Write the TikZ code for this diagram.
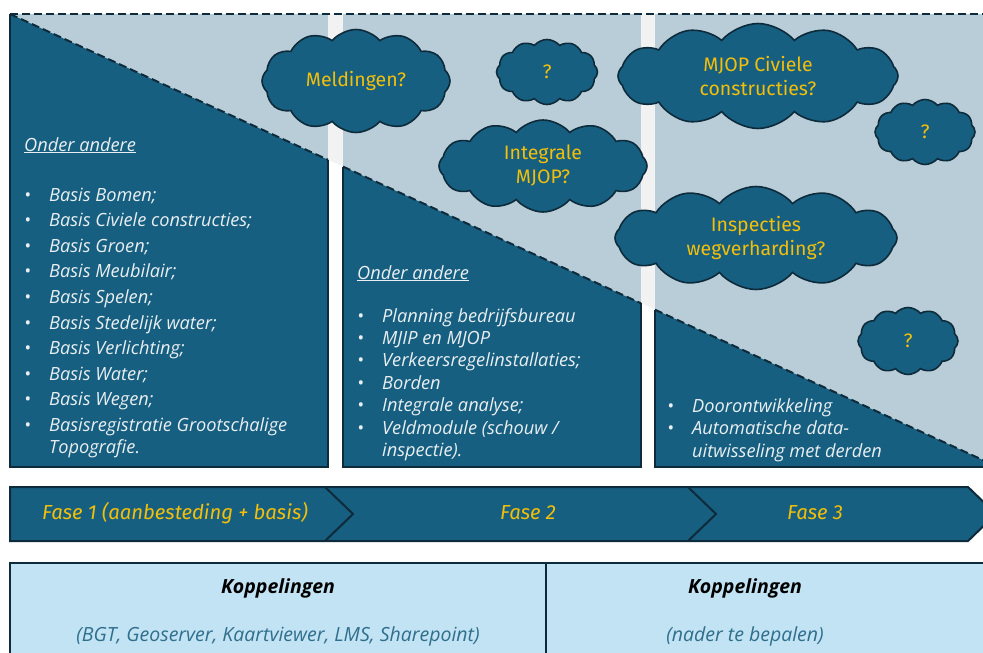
\documentclass[tikz,border=0pt]{standalone}
\usepackage{fontspec}
\setmainfont{Open Sans}
\newfontfamily\fira{Fira Sans}
\usetikzlibrary{shapes.symbols}
\definecolor{dkblue}{HTML}{175F80}
\definecolor{ltblue}{HTML}{B9CDD8}
\definecolor{outl}{HTML}{0D2B3B}
\definecolor{gold}{HTML}{F2BF0A}
\definecolor{gapgray}{HTML}{F2F2F2}
\definecolor{listwhite}{HTML}{E9EFF2}
\definecolor{tblblue}{HTML}{C2E3F3}
\definecolor{tbltext}{HTML}{2F6E8C}
\tikzset{
  solidedge/.style={draw=outl, line width=2pt},
  dashedge/.style={draw=outl, line width=2pt, dash pattern=on 8pt off 4pt},
  cloudbox/.style={cloud, cloud puffs=12, cloud puff arc=100, cloud ignores aspect,
    fill=dkblue, draw=outl, line width=1.6pt, text=gold, align=center, inner sep=0pt,
    font=\fira\fontsize{19.5}{24}\selectfont},
  phasetext/.style={text=gold, font=\fira\itshape\fontsize{20.3}{24}\selectfont},
  listtext/.style={text=listwhite, anchor=base west, inner sep=0pt, align=left},
  headtext/.style={text=black, font=\bfseries\itshape\fontsize{19.5}{22}\selectfont},
  subtext/.style={text=tbltext, font=\itshape\fontsize{19.5}{22}\selectfont},
}
\begin{document}
\begin{tikzpicture}[x=1pt,y=-1pt]
\useasboundingbox (0,0) rectangle (983,653);
\clip (0,0) rectangle (983,653);
\fill[white] (0,0) rectangle (983,653);
% upper light area and gaps
\fill[ltblue] (10,14) rectangle (990,467);
\fill[gapgray] (328,14) rectangle (343,467);
\fill[gapgray] (641,14) rectangle (655,467);
\fill[white] (328,159.8) -- (343,166.6) -- (343,467) -- (328,467) -- cycle;
\fill[white] (641,303.3) -- (655,309.7) -- (655,467) -- (641,467) -- cycle;
% panel 1
\fill[dkblue] (10,14) -- (328,159.8) -- (328,467) -- (10,467) -- cycle;
\draw[solidedge] (10,14) -- (10,467) -- (328,467) -- (328,159.8);
\draw[dashedge] (10,14) -- (328,159.8);
% panel 2
\fill[dkblue] (343,166.6) -- (641,303.3) -- (641,467) -- (343,467) -- cycle;
\draw[solidedge] (343,166.6) -- (343,467) -- (641,467) -- (641,303.3);
\draw[dashedge] (343,166.6) -- (641,303.3);
% panel 3
\fill[dkblue] (655,309.7) -- (990,463.3) -- (990,467) -- (655,467) -- cycle;
\draw[solidedge] (655,309.7) -- (655,467) -- (990,467);
\draw[dashedge] (655,309.7) -- (990,463.3);
% top dashed
\draw[dashedge] (10,14) -- (990,14);

% lists
\node[listtext, font=\itshape\fontsize{18.2}{20}\selectfont] (on1) at (24,151) {\underline{Onder andere}};
\node[listtext, font=\itshape\fontsize{18.2}{25.6}\selectfont] (l1) at (24,201)
 {\begin{tabular}[t]{@{}p{25pt}@{}l@{}}
 \textbullet & Basis Bomen;\\
 \textbullet & Basis Civiele constructies;\\
 \textbullet & Basis Groen;\\
 \textbullet & Basis Meubilair;\\
 \textbullet & Basis Spelen;\\
 \textbullet & Basis Stedelijk water;\\
 \textbullet & Basis Verlichting;\\
 \textbullet & Basis Water;\\
 \textbullet & Basis Wegen;\\
 \textbullet & Basisregistratie Grootschalige\\[-3.6pt]
             & Topografie.
 \end{tabular}};
\node[listtext, font=\itshape\fontsize{18.2}{20}\selectfont] (on2) at (357,279) {\underline{Onder andere}};
\node[listtext, font=\itshape\fontsize{18.2}{22.4}\selectfont] (l2) at (357,322)
 {\begin{tabular}[t]{@{}p{25pt}@{}l@{}}
 \textbullet & Planning bedrijfsbureau\\
 \textbullet & MJIP en MJOP\\
 \textbullet & Verkeersregelinstallaties;\\
 \textbullet & Borden\\
 \textbullet & Integrale analyse;\\
 \textbullet & Veldmodule (schouw /\\
             & inspectie).
 \end{tabular}};
\node[listtext, font=\itshape\fontsize{18.2}{22.6}\selectfont] (l3) at (667,412)
 {\begin{tabular}[t]{@{}p{25pt}@{}l@{}}
 \textbullet & Doorontwikkeling\\
 \textbullet & Automatische data-\\
             & uitwisseling met derden
 \end{tabular}};

% clouds
\node[cloudbox, minimum width=188pt, minimum height=103pt] (c1) at (356,81) {Meldingen?};
\node[cloudbox, minimum width=101pt, minimum height=65pt] (c2) at (547,72) {?};
\node[cloudbox, minimum width=208pt, minimum height=92pt] (c3) at (543,166) {Integrale\\MJOP?};
\node[cloudbox, minimum width=280pt, minimum height=105pt] (c4) at (758,76) {MJOP Civiele\\constructies?};
\node[cloudbox, minimum width=100pt, minimum height=65pt] (c5) at (925,132) {?};
\node[cloudbox, minimum width=282pt, minimum height=103pt] (c6) at (756,238) {Inspecties\\wegverharding?};
\node[cloudbox, minimum width=100pt, minimum height=67pt] (c7) at (908,341) {?};

% phase bar
\fill[dkblue] (10,487) -- (968,487) -- (996,514) -- (968,541) -- (10,541) -- cycle;
\draw[solidedge] (10,487) -- (968,487) -- (996,514) -- (968,541) -- (10,541) -- cycle;
\draw[solidedge] (325,487) -- (353,514) -- (325,541);
\draw[solidedge] (688,487) -- (716,514) -- (688,541);
\node[phasetext] (f1) at (175,513) {Fase 1 (aanbesteding + basis)};
\node[phasetext] (f2) at (528,513) {Fase 2};
\node[phasetext] (f3) at (815,513) {Fase 3};

% table
\fill[tblblue] (10,563) rectangle (995,680);
\draw[solidedge] (10,680) -- (10,563) -- (995,563);
\draw[solidedge] (546,563) -- (546,680);
\node[headtext] (k1) at (278,588) {Koppelingen};
\node[headtext] (k2) at (745,588) {Koppelingen};
\node[subtext] (s1) at (278,636) {(BGT, Geoserver, Kaartviewer, LMS, Sharepoint)};
\node[subtext] (s2) at (745,636) {(nader te bepalen)};
\end{tikzpicture}
\end{document}
